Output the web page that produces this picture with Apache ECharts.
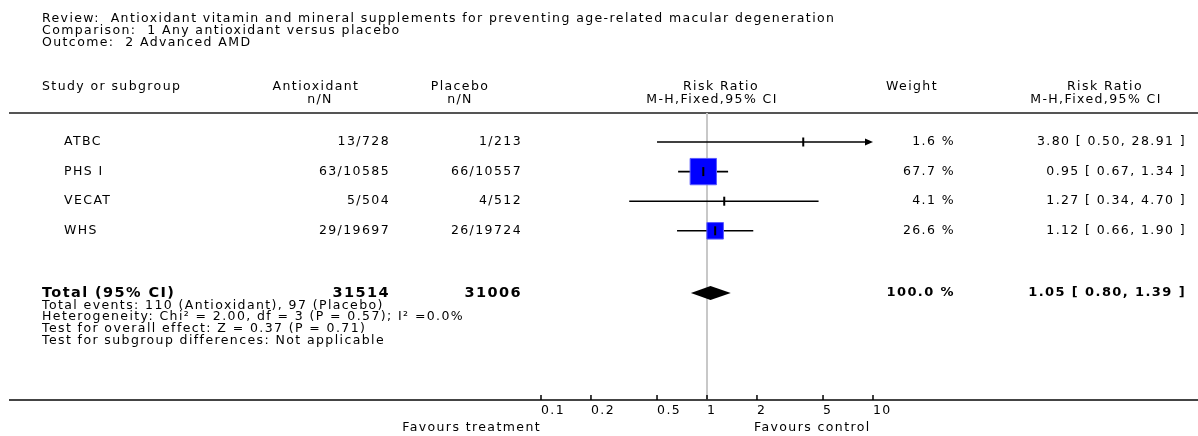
<!DOCTYPE html>
<html>
<head>
<meta charset="utf-8">
<script src="https://cdn.jsdelivr.net/npm/echarts@6/dist/echarts.min.js"></script>
<style>
html,body{margin:0;padding:0;background:#ffffff;}
#chart{width:1198px;height:436px;}
</style>
</head>
<body>
<div id="chart"></div>
<script>
// ---------------- data ----------------
const TITLE_LINES = [
  'Review:  Antioxidant vitamin and mineral supplements for preventing age-related macular degeneration',
  'Comparison:  1 Any antioxidant versus placebo',
  'Outcome:  2 Advanced AMD'
];
const STUDIES = ['ATBC', 'PHS I', 'VECAT', 'WHS'];
const AO_EVENTS = [13, 63, 5, 29];
const AO_TOTAL = [728, 10585, 504, 19697];
const PL_EVENTS = [1, 66, 4, 26];
const PL_TOTAL = [213, 10557, 512, 19724];
const WEIGHTS = [1.6, 67.7, 4.1, 26.6];
const RR = [3.80, 0.95, 1.27, 1.12];
const RR_LO = [0.50, 0.67, 0.34, 0.66];
const RR_HI = [28.91, 1.34, 4.70, 1.90];
const TOTAL_AO = 31514;
const TOTAL_PL = 31006;
const TOTAL_WEIGHT = 100.0;
const TOTAL_RR = [1.05, 0.80, 1.39];
const STATS_LINES = [
  'Total events: 110 (Antioxidant), 97 (Placebo)',
  'Heterogeneity: Chi\u00B2 = 2.00, df = 3 (P = 0.57); I\u00B2 =0.0%',
  'Test for overall effect: Z = 0.37 (P = 0.71)',
  'Test for subgroup differences: Not applicable'
];
const TICK_VALUES = [0.1, 0.2, 0.5, 1, 2, 5, 10];
const TICK_LABELS = ['0.1', '0.2', '0.5', '1', '2', '5', '10'];

// ---------------- layout / style ----------------
const LETTER_SPACING = '1.4px';
const _origFillText = CanvasRenderingContext2D.prototype.fillText;
CanvasRenderingContext2D.prototype.fillText = function () {
  try { this.letterSpacing = LETTER_SPACING; } catch (e) {}
  return _origFillText.apply(this, arguments);
};

const FF = '"DejaVu Sans", Verdana, sans-serif';
const F_REG = '12.5px ' + FF;
const F_TICK = '12.5px ' + FF;
const F_BOLD_L = 'bold 14.5px ' + FF;
const F_BOLD_R = 'bold 13px ' + FF;
const TXT = '#000000';

const X_MIN = 0.1, X_MAX = 10;
const GRID_LEFT = 541, GRID_RIGHT_PX = 873, W = 1198, H = 436;
const HEADER_LINE_Y = 113, AXIS_Y = 400;
const FIRST_ROW_Y = 142, ROW_STEP = 29.6;
const TOTAL_ROW = 5.1;
const Y_MIN = -(FIRST_ROW_Y - HEADER_LINE_Y) / ROW_STEP;
const Y_MAX = Y_MIN + (AXIS_Y - HEADER_LINE_Y) / ROW_STEP;

const COL_NAME_X = 64;
const COL_AO_R = 390;
const COL_PL_R = 522;
const COL_W_R = 955;
const COL_RR_R = 1186;
const BOX_SCALE = 3.2, MIN_BOX = 8;

function txt(text, x, y, align, font) {
  return {
    type: 'text', x: x, y: y, silent: true,
    style: { text: text, font: font || F_REG, fill: TXT,
      align: align || 'left', textAlign: align || 'left',
      verticalAlign: 'middle', textVerticalAlign: 'middle' }
  };
}
function hline(x1, x2, y, color, w) {
  return { type: 'line', silent: true, shape: { x1: x1, y1: y, x2: x2, y2: y },
    style: { stroke: color, lineWidth: w } };
}

const fmt2 = v => v.toFixed(2);

const graphics = [];
TITLE_LINES.forEach((t, i) => graphics.push(txt(t, 42, 18.5 + i * 12.2)));
graphics.push(txt('Study or subgroup', 42, 87));
graphics.push(txt('Antioxidant', 316, 87, 'center'));
graphics.push(txt('n/N', 320, 100, 'center'));
graphics.push(txt('Placebo', 460, 87, 'center'));
graphics.push(txt('n/N', 460, 100, 'center'));
graphics.push(txt('Risk Ratio', 721, 87, 'center'));
graphics.push(txt('M-H,Fixed,95% CI', 712, 100, 'center'));
graphics.push(txt('Weight', 912, 87, 'center'));
graphics.push(txt('Risk Ratio', 1105, 87, 'center'));
graphics.push(txt('M-H,Fixed,95% CI', 1096, 100, 'center'));
graphics.push(hline(9, W, HEADER_LINE_Y, '#555555', 2));
graphics.push(hline(9, W, AXIS_Y, '#444444', 2));
STATS_LINES.forEach((t, i) => graphics.push(txt(t, 42, 305.5 + i * 11.7)));
graphics.push(txt('Favours treatment', 541, 428, 'right'));
graphics.push(txt('Favours control', 754, 428, 'left'));

function renderRef(params, api) {
  const p1 = api.coord([1, Y_MIN]);
  const p2 = api.coord([1, Y_MAX]);
  return { type: 'line', shape: { x1: p1[0], y1: p1[1], x2: p2[0], y2: p2[1] },
    style: { stroke: '#c8c8c8', lineWidth: 2 } };
}

function renderStudy(params, api) {
  const i = params.dataIndex;
  const y = api.coord([1, i])[1];
  const xs = api.coord([RR[i], i])[0];
  const xl = api.coord([Math.max(RR_LO[i], X_MIN), i])[0];
  const xh = api.coord([Math.min(RR_HI[i], X_MAX), i])[0];
  const children = [];
  const arrowR = RR_HI[i] > X_MAX;
  const arrowL = RR_LO[i] < X_MIN;
  children.push({ type: 'line', shape: { x1: xl + (arrowL ? 4 : 0), y1: y, x2: xh - (arrowR ? 4 : 0), y2: y },
    style: { stroke: '#000', lineWidth: 1.6 } });
  if (arrowR) {
    children.push({ type: 'polygon', shape: { points: [[xh, y], [xh - 8, y - 3.5], [xh - 8, y + 3.5]] },
      style: { fill: '#000' } });
  }
  if (arrowL) {
    children.push({ type: 'polygon', shape: { points: [[xl, y], [xl + 8, y - 3.5], [xl + 8, y + 3.5]] },
      style: { fill: '#000' } });
  }
  const s = BOX_SCALE * Math.sqrt(WEIGHTS[i]);
  if (s >= MIN_BOX) {
    children.push({ type: 'rect', shape: { x: xs - s / 2, y: y - s / 2, width: s, height: s },
      style: { fill: '#0000ff', stroke: '#5a5aff', lineWidth: 1 } });
  }
  children.push({ type: 'line', shape: { x1: xs, y1: y - 4.5, x2: xs, y2: y + 4.5 },
    style: { stroke: '#000', lineWidth: 2 } });
  children.push(txt(STUDIES[i], COL_NAME_X, y));
  children.push(txt(AO_EVENTS[i] + '/' + AO_TOTAL[i], COL_AO_R, y, 'right'));
  children.push(txt(PL_EVENTS[i] + '/' + PL_TOTAL[i], COL_PL_R, y, 'right'));
  children.push(txt(WEIGHTS[i].toFixed(1) + ' %', COL_W_R, y, 'right'));
  children.push(txt(fmt2(RR[i]) + ' [ ' + fmt2(RR_LO[i]) + ', ' + fmt2(RR_HI[i]) + ' ]', COL_RR_R, y, 'right'));
  return { type: 'group', children: children };
}

function renderTotal(params, api) {
  const y = api.coord([1, TOTAL_ROW])[1];
  const c = api.coord([TOTAL_RR[0], TOTAL_ROW]);
  const l = api.coord([TOTAL_RR[1], TOTAL_ROW]);
  const r = api.coord([TOTAL_RR[2], TOTAL_ROW]);
  const hh = 7;
  return { type: 'group', children: [
    { type: 'polygon', shape: { points: [[l[0], y], [c[0], y - hh], [r[0], y], [c[0], y + hh]] },
      style: { fill: '#000' } },
    txt('Total (95% CI)', 42, y, 'left', F_BOLD_L),
    txt(String(TOTAL_AO), COL_AO_R, y, 'right', F_BOLD_L),
    txt(String(TOTAL_PL), COL_PL_R, y, 'right', F_BOLD_L),
    txt(TOTAL_WEIGHT.toFixed(1) + ' %', COL_W_R, y, 'right', F_BOLD_R),
    txt(fmt2(TOTAL_RR[0]) + ' [ ' + fmt2(TOTAL_RR[1]) + ', ' + fmt2(TOTAL_RR[2]) + ' ]', COL_RR_R, y, 'right', F_BOLD_R)
  ] };
}

function renderTick(params, api) {
  const p = api.coord([api.value(0), Y_MAX]);
  return { type: 'group', children: [
    { type: 'line', shape: { x1: p[0], y1: p[1] - 5, x2: p[0], y2: p[1] },
      style: { stroke: '#000', lineWidth: 1.5 } },
    txt(TICK_LABELS[params.dataIndex], p[0], p[1] + 11, 'left', F_TICK)
  ] };
}

const chart = echarts.init(document.getElementById('chart'), null, { renderer: 'canvas', width: W, height: H });
chart.setOption({
  backgroundColor: '#ffffff',
  animation: false,
  grid: { left: GRID_LEFT, right: W - GRID_RIGHT_PX, top: HEADER_LINE_Y, bottom: H - AXIS_Y, containLabel: false },
  xAxis: { type: 'log', logBase: 10, min: X_MIN, max: X_MAX,
    axisLine: { show: false }, axisTick: { show: false }, axisLabel: { show: false }, splitLine: { show: false } },
  yAxis: { type: 'value', inverse: true, min: Y_MIN, max: Y_MAX, show: false,
    axisLine: { show: false }, axisTick: { show: false }, axisLabel: { show: false }, splitLine: { show: false } },
  graphic: { elements: graphics },
  series: [
    { type: 'custom', name: 'ref', renderItem: renderRef, data: [[1, 0]], z: 1, silent: true },
    { type: 'custom', name: 'studies', renderItem: renderStudy, data: STUDIES.map((s, i) => [RR[i], i]), z: 2, silent: true },
    { type: 'custom', name: 'total', renderItem: renderTotal, data: [[TOTAL_RR[0], TOTAL_ROW]], z: 2, silent: true },
    { type: 'custom', name: 'ticks', renderItem: renderTick, data: TICK_VALUES.map(v => [v]), z: 2, silent: true }
  ]
});
</script>
</body>
</html>
